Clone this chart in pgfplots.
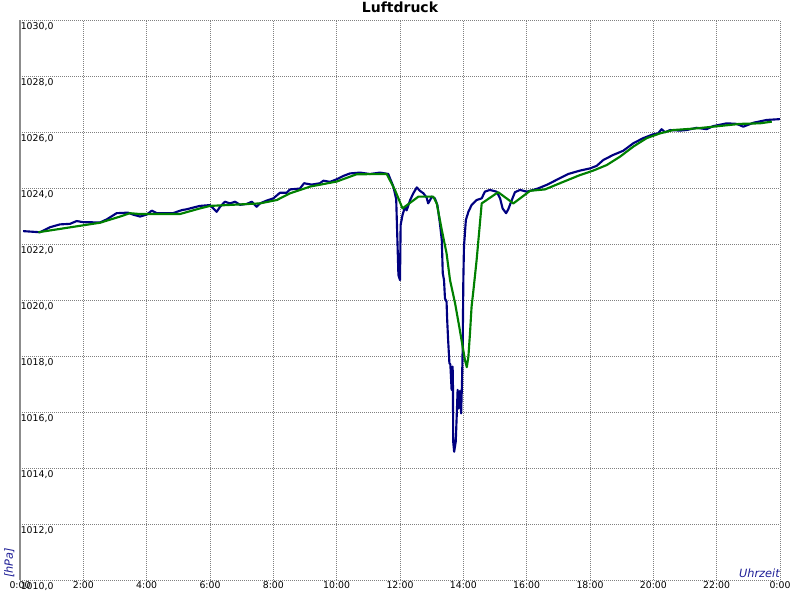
\documentclass[border=0pt]{standalone}
\usepackage{pgfplots}
\pgfplotsset{compat=1.18}
\usepackage{fontspec}
\setmainfont{DejaVu Sans}
\definecolor{navyline}{RGB}{0,0,128}
\definecolor{greenline}{RGB}{0,128,0}
\definecolor{labelblue}{RGB}{30,30,150}
\begin{document}
\begin{tikzpicture}
\begin{axis}[
  scale only axis,
  width=570pt, height=420pt,
  xmin=0, xmax=24, ymin=1010, ymax=1030,
  xtick={0,2,...,24},
  xticklabels={0:00,2:00,4:00,6:00,8:00,10:00,12:00,14:00,16:00,18:00,20:00,22:00,0:00},
  ytick={1010,1012,...,1030},
  yticklabels={{1010,0},{1012,0},{1014,0},{1016,0},{1018,0},{1020,0},{1022,0},{1024,0},{1026,0},{1028,0},{1030,0}},
  major tick length=0pt,
  tick label style={font=\fontsize{7}{8}\selectfont, text=black},
  yticklabel style={anchor=north west, inner xsep=0.4pt, inner ysep=1.6pt},
  xticklabel style={anchor=north, inner sep=1pt},
  grid=major,
  major grid style={gray, line width=0.7pt, dash pattern=on 0.75pt off 0.75pt},
  axis x line=bottom,
  axis y line=left,
  x axis line style={draw=none},
  y axis line style={-, draw=gray!90, line width=1.6pt},
  clip=false,
]
\addplot[navyline, line width=1.6pt, line join=round] coordinates {
(0.10,1022.46) (0.63,1022.42) (0.95,1022.60) (1.26,1022.70) (1.58,1022.72) (1.79,1022.82)
(1.99,1022.78) (2.53,1022.77) (2.74,1022.88) (3.05,1023.10) (3.41,1023.12) (3.57,1023.05)
(3.79,1022.98) (4.00,1023.05) (4.16,1023.19) (4.32,1023.10) (4.83,1023.10) (5.11,1023.21)
(5.26,1023.24) (5.68,1023.36) (6.00,1023.39) (6.21,1023.15) (6.32,1023.33) (6.47,1023.51)
(6.63,1023.45) (6.79,1023.51) (6.95,1023.40) (7.16,1023.43) (7.32,1023.51) (7.47,1023.33)
(7.58,1023.45) (7.79,1023.55) (8.00,1023.63) (8.21,1023.83) (8.42,1023.83) (8.53,1023.95)
(8.84,1023.98) (8.97,1024.17) (9.21,1024.12) (9.47,1024.17) (9.58,1024.26) (9.79,1024.22)
(10.00,1024.31) (10.21,1024.43) (10.42,1024.52) (10.74,1024.55) (11.05,1024.50) (11.37,1024.55)
(11.63,1024.50) (11.79,1024.05) (11.88,1023.60) (11.91,1022.44) (11.95,1020.89) (12.00,1020.71)
(12.02,1022.68) (12.08,1023.04) (12.16,1023.33) (12.21,1023.20) (12.32,1023.57) (12.42,1023.81)
(12.53,1024.02) (12.63,1023.90) (12.74,1023.81) (12.84,1023.66) (12.89,1023.45) (12.95,1023.57)
(13.00,1023.69) (13.10,1023.63) (13.18,1023.39) (13.26,1022.74) (13.32,1022.14) (13.35,1020.96)
(13.39,1020.71) (13.42,1020.06) (13.47,1019.94) (13.49,1019.29) (13.52,1018.57) (13.56,1017.74)
(13.59,1017.70) (13.63,1016.79) (13.66,1017.62) (13.67,1017.30) (13.68,1014.94) (13.71,1014.58)
(13.76,1014.94) (13.79,1015.83) (13.82,1016.79) (13.85,1016.13) (13.89,1016.75) (13.93,1015.95)
(13.96,1017.14) (13.98,1018.33) (14.00,1020.71) (14.02,1021.90) (14.08,1022.86) (14.16,1023.15)
(14.26,1023.39) (14.42,1023.57) (14.58,1023.63) (14.68,1023.87) (14.84,1023.93) (15.05,1023.87)
(15.16,1023.63) (15.24,1023.27) (15.35,1023.10) (15.42,1023.24) (15.53,1023.57) (15.63,1023.85)
(15.79,1023.93) (16.00,1023.87) (16.21,1023.93) (16.37,1023.99) (16.63,1024.11) (16.84,1024.23)
(17.05,1024.35) (17.31,1024.50) (17.68,1024.62) (18.00,1024.70) (18.21,1024.79) (18.42,1025.00)
(18.73,1025.18) (19.05,1025.33) (19.37,1025.60) (19.68,1025.78) (20.00,1025.92) (20.15,1025.95)
(20.26,1026.10) (20.37,1025.99) (20.53,1026.07) (20.84,1026.05) (21.05,1026.07) (21.37,1026.15)
(21.68,1026.10) (21.89,1026.21) (22.32,1026.31) (22.63,1026.29) (22.84,1026.19) (23.16,1026.33)
(23.58,1026.43) (24.00,1026.46)
};
\addplot[greenline, line width=1.6pt, line join=round] coordinates {
(0.58,1022.42) (2.53,1022.76) (3.16,1022.98) (3.47,1023.10) (3.79,1023.07) (5.05,1023.07)
(5.68,1023.27) (6.00,1023.36) (7.58,1023.45) (8.11,1023.57) (8.53,1023.81) (9.16,1024.05)
(10.00,1024.23) (10.63,1024.49) (11.58,1024.50) (11.84,1023.93) (12.08,1023.27) (12.58,1023.69)
(13.05,1023.69) (13.16,1023.45) (13.32,1022.50) (13.47,1021.67) (13.58,1020.71) (13.74,1019.88)
(13.87,1019.05) (13.98,1018.33) (14.05,1017.86) (14.11,1017.60) (14.16,1017.98) (14.21,1018.81)
(14.26,1019.76) (14.32,1020.36) (14.42,1021.43) (14.58,1023.45) (15.10,1023.85) (15.58,1023.45)
(16.11,1023.90) (16.58,1023.95) (17.05,1024.17) (17.68,1024.46) (18.10,1024.62) (18.53,1024.82)
(18.95,1025.12) (19.37,1025.48) (19.79,1025.78) (20.21,1025.95) (20.63,1026.07) (21.37,1026.13)
(21.89,1026.19) (22.74,1026.29) (23.37,1026.31) (23.74,1026.37)
};
\node[anchor=base, inner sep=0pt, font=\fontsize{10.5}{12}\selectfont\bfseries]
  at ([yshift=5.3pt]rel axis cs:0.5,1) {Luftdruck};
\node[rotate=90, anchor=south west, inner sep=0pt, text=labelblue, font=\fontsize{8.5}{10}\itshape]
  at ([shift={(-4pt,1.5pt)}]rel axis cs:0,0) {[hPa]};
\node[anchor=south east, inner sep=0pt, text=labelblue, font=\fontsize{8.5}{10}\itshape]
  at ([shift={(0pt,1.5pt)}]rel axis cs:1,0) {Uhrzeit};
\coordinate (bl) at (rel axis cs:0,0);
\coordinate (tr) at (rel axis cs:1,1);
\end{axis}
\pgfresetboundingbox
\path[use as bounding box] ([shift={(-15pt,-15pt)}]bl) rectangle ([shift={(15pt,15pt)}]tr);
\end{tikzpicture}
\end{document}
